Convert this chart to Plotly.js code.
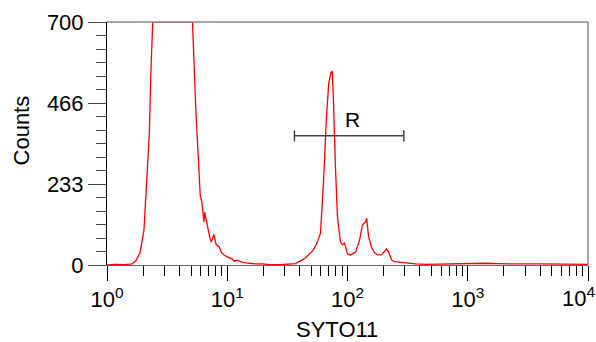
<!DOCTYPE html>
<html>
<head>
<meta charset="utf-8">
<script src="https://cdn.plot.ly/plotly-3.0.1.min.js"></script>
<style>html,body{margin:0;padding:0;background:#fff;}#chart{width:596px;height:342px;}</style>
</head>
<body>
<div id="chart"></div>
<script>
// SYTO11 fluorescence channels (log scale) and event counts
var syto11 = [1.00,1.17,1.41,1.61,1.74,1.88,2.03,2.07,2.17,2.25,2.31,2.40,2.8,3.3,3.9,4.5,5.14,5.48,5.77,5.96,6.15,6.40,6.49,6.64,6.90,7.15,7.36,7.74,8.09,8.58,8.91,9.44,10.2,11.0,11.4,12.1,13.1,14.1,15.5,17.1,19.5,22.8,27.7,32.2,36.9,40.6,44.7,49.2,52.1,56.2,59.6,63.1,66.8,69.8,72.6,74.6,76.4,79.4,82.5,87.4,90.8,94.4,100,106,117,126,133,141,144,150,158,168,178,192,203,211,220,233,246,261,304,369,447,596,794,962,1166,1413,1711,2074,2766,4057,5957,7943,10000];
var counts = [0,2,1,3,12,35,101,158,302,380,541,700,700,700,700,700,700,446,302,201,181,124,152,135,101,80,66,88,58,52,37,28,22,17,11,14,9,6,5,3,3,1,1,2,4,12,20,35,43,66,92,236,426,524,553,559,475,282,138,66,58,63,32,29,37,72,115,124,135,81,52,35,29,30,40,46,37,14,10,9,5,3,2,3,4,5,4,5,4,3,3,3,2,2,2];

var decades = [1, 10, 100, 1000, 10000];
var decadeLabels = ['10<sup>0</sup>','10<sup>1</sup>','10<sup>2</sup>','10<sup>3</sup>','10<sup>4</sup>'];
var yTicks = [0, 700/3, 1400/3, 700];
var yTickLabels = ['0','233','466','700'];

// gate "R"
var gateRange = [36.2, 294];
var gateLevel = 372;
var gateCap = 16;
var gateName = 'R';

var minorVals = [];
for (var d = 0; d < 4; d++) for (var k = 2; k <= 9; k++) minorVals.push(k * decades[d]);

// last decade label is drawn as an annotation so it can hug the right edge
var axisTickText = decadeLabels.slice(0, 4).concat(['']);

var font = 'Liberation Sans, Arial, Helvetica, sans-serif';

var traces = [
  {x: syto11, y: counts, type: 'scatter', mode: 'lines',
   line: {color: '#ff0000', width: 1.3}, hoverinfo: 'skip'},
  {x: [gateRange[0], gateRange[0], null, gateRange[0], gateRange[1], null, gateRange[1], gateRange[1]],
   y: [gateLevel - gateCap, gateLevel + gateCap, null, gateLevel, gateLevel, null, gateLevel - gateCap, gateLevel + gateCap],
   type: 'scatter', mode: 'lines', line: {color: '#444444', width: 1.5}, hoverinfo: 'skip'}
];

var layout = {
  width: 596, height: 342,
  margin: {l: 107, r: 8, t: 22, b: 77},
  paper_bgcolor: '#ffffff', plot_bgcolor: '#ffffff',
  showlegend: false,
  font: {family: font, size: 22, color: '#000'},
  xaxis: {
    type: 'log', range: [-0.00001, 4.00001],
    tickmode: 'array', tickvals: decades, ticktext: axisTickText,
    ticks: 'outside', ticklen: 15, tickwidth: 1, tickcolor: '#000',
    minor: {tickmode: 'array', tickvals: minorVals, ticks: 'outside', ticklen: 10, tickwidth: 1, tickcolor: '#000', showgrid: false},
    showline: true, linecolor: '#666', linewidth: 1,
    showgrid: false, zeroline: false,
    tickfont: {family: font, size: 22, color: '#000'}
  },
  yaxis: {
    range: [0, 700],
    tickmode: 'array', tickvals: yTicks, ticktext: yTickLabels,
    ticks: 'outside', ticklen: 18, tickwidth: 1, tickcolor: '#444',
    minor: {tick0: 0, dtick: 700/18, ticks: 'outside', ticklen: 10, tickwidth: 1, tickcolor: '#444', showgrid: false},
    showline: true, linecolor: '#000', linewidth: 1,
    showgrid: false, zeroline: false,
    tickfont: {family: font, size: 22, color: '#000'}
  },
  shapes: [
    {type: 'line', xref: 'paper', yref: 'paper', x0: 0, x1: 1, y0: 1, y1: 1, line: {color: '#888', width: 1.5}},
    {type: 'line', xref: 'paper', yref: 'paper', x0: 1, x1: 1, y0: 0, y1: 1, line: {color: '#888', width: 1.5}}
  ],
  annotations: [
    {text: 'Counts', xref: 'paper', yref: 'paper', x: -0.1757, y: 0.5556, textangle: -90,
     showarrow: false, xanchor: 'center', yanchor: 'middle', font: {family: font, size: 22, color: '#000'}},
    {text: 'SYTO11', xref: 'paper', yref: 'paper', x: 0.4792, y: -0.2634,
     showarrow: false, xanchor: 'center', yanchor: 'middle', font: {family: font, size: 22, color: '#000'}},
    {text: gateName, xref: 'x', yref: 'y', x: Math.log10(109.4), y: gateLevel + 8,
     showarrow: false, xanchor: 'center', yanchor: 'bottom', font: {family: font, size: 21, color: '#000'}},
    {text: decadeLabels[4], xref: 'paper', yref: 'paper', x: 1.0166, y: -0.1317,
     showarrow: false, xanchor: 'right', yanchor: 'middle', borderpad: 0,
     font: {family: font, size: 22, color: '#000'}}
  ]
};

Plotly.newPlot('chart', traces, layout, {displayModeBar: false, staticPlot: true});
</script>
</body>
</html>
